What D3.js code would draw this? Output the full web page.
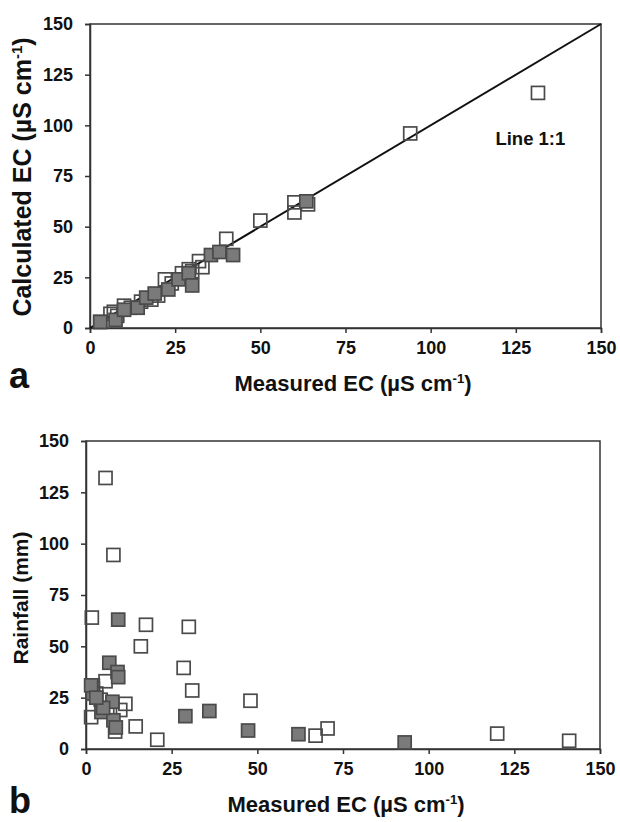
<!DOCTYPE html>
<html>
<head>
<meta charset="utf-8">
<script src="https://cdn.jsdelivr.net/npm/d3@7"></script>
<style>
  body { margin: 0; background: #fff; }
  text { font-family: "Liberation Sans", Arial, sans-serif; font-weight: bold; fill: #111; }
</style>
</head>
<body>
<script>
// panel a: measured vs calculated EC
const aOpen = [[3,3],[6,7],[7,8],[8,6],[10,11],[12,10],[15,13],[18,14],[20,16],[22,24],[24,22],[27,27],
  [29,29],[30,28],[32,33],[33,30],[40,44],[50,53],[60,57],[60,62],[64,61],[94,96],[131.5,116]];
const aFilled = [[3,3],[7.5,4],[10,9],[14,10],[16.5,15],[19,17],[23,19],[26,24],[29,27],[30,21],
  [35.5,36],[38,37.5],[42,36],[63.5,62.5]];

// panel b: measured EC vs rainfall
const bOpen = [[5.7,132],[8,94.5],[1.7,64],[17.5,60.5],[30,59.5],[16,50],[28.5,39.5],[31,28.5],[48,23.5],
  [11.5,22],[20.8,4.5],[14.5,11],[1.5,15.5],[5.7,33],[4.3,24],[10,19],[2,31],[8.5,8.5],[67,6.5],
  [70.5,10],[120,7.5],[141,4],[3,27],[7,20]];
const bFilled = [[9.4,63],[6.8,42],[9.2,37.5],[9.4,35],[2,29.5],[2,27],[1.5,31],[4.5,18],[7.7,23],[8,14],
  [8.7,10.5],[29,16],[36,18.5],[47.3,9],[62,7.2],[93,3.2],[5,20],[3,25]];

const ticks = [0, 25, 50, 75, 100, 125, 150];

const svg = d3.select('body').append('svg')
  .attr('width', 620)
  .attr('height', 822);

function ecLabel(sel, prefix, size) {
  sel.append('tspan').text(prefix);
  sel.append('tspan').attr('dy', -size * 0.38).style('font-size', (size * 0.6) + 'px').text('-1');
  sel.append('tspan').attr('dy', size * 0.38).text(')');
}

function panel(cfg) {
  const x = d3.scaleLinear().domain([0, 150]).range([cfg.left, cfg.right]);
  const y = d3.scaleLinear().domain([0, 150]).range([cfg.bottom, cfg.top]);
  const g = svg.append('g');

  // frame
  g.append('rect')
    .attr('x', cfg.left).attr('y', cfg.top)
    .attr('width', cfg.right - cfg.left).attr('height', cfg.bottom - cfg.top)
    .attr('fill', 'none').attr('stroke', '#333').attr('stroke-width', 1.5);

  const xAxis = g.append('g')
    .attr('transform', `translate(0,${cfg.bottom})`)
    .call(d3.axisBottom(x).tickValues(ticks).tickSize(5).tickPadding(8));
  const yAxis = g.append('g')
    .attr('transform', `translate(${cfg.left},0)`)
    .call(d3.axisLeft(y).tickValues(ticks).tickSize(5).tickPadding(12));
  [xAxis, yAxis].forEach(ax => {
    ax.select('.domain').attr('stroke', '#333').attr('stroke-width', 1.5);
    ax.selectAll('.tick line').attr('stroke', '#333').attr('stroke-width', 1.5);
    ax.selectAll('.tick text').style('font-size', '18px').style('font-weight', 'bold')
      .style('font-family', '"Liberation Sans", Arial, sans-serif').attr('fill', '#111');
  });

  if (cfg.oneToOne) {
    g.append('line')
      .attr('x1', x(0)).attr('y1', y(0)).attr('x2', x(150)).attr('y2', y(150))
      .attr('stroke', '#111').attr('stroke-width', 2);
    g.append('text').attr('x', x(119)).attr('y', y(90.5))
      .style('font-size', '18.5px').text('Line 1:1');
  }

  const s = 13;
  g.selectAll('.open').data(cfg.open).enter().append('rect')
    .attr('x', d => x(d[0]) - s / 2).attr('y', d => y(d[1]) - s / 2)
    .attr('width', s).attr('height', s)
    .attr('fill', 'none').attr('stroke', '#4a4a4a').attr('stroke-width', 1.7);
  g.selectAll('.filled').data(cfg.filled).enter().append('rect')
    .attr('x', d => x(d[0]) - s / 2).attr('y', d => y(d[1]) - s / 2)
    .attr('width', s).attr('height', s)
    .attr('fill', '#7a7a7a').attr('stroke', '#4a4a4a').attr('stroke-width', 1.7);

  // x title
  const xt = g.append('text').attr('x', cfg.xTitleX).attr('y', cfg.bottom + 63)
    .attr('text-anchor', 'middle').style('font-size', '22px');
  ecLabel(xt, 'Measured EC (µS cm', 22);

  // y title
  const yt = g.append('text')
    .attr('transform', `translate(${cfg.yTitleX},${cfg.yTitleY}) rotate(-90)`)
    .attr('text-anchor', 'middle').style('font-size', cfg.yTitleSize + 'px');
  if (cfg.yLabel) {
    yt.text(cfg.yLabel);
  } else {
    ecLabel(yt, 'Calculated EC  (µS cm', cfg.yTitleSize);
  }

  g.append('text').attr('x', 9).attr('y', cfg.letterY)
    .style('font-size', '36px').text(cfg.letter);
}

panel({ left: 90, right: 601, top: 24, bottom: 328, open: aOpen, filled: aFilled,
  oneToOne: true, letter: 'a', letterY: 388, xTitleX: 353, yTitleX: 31, yTitleY: 177, yTitleSize: 25 });
panel({ left: 86, right: 600, top: 441, bottom: 749, open: bOpen, filled: bFilled,
  yLabel: 'Rainfall (mm)', letter: 'b', letterY: 813, xTitleX: 346, yTitleX: 28, yTitleY: 598, yTitleSize: 21 });
</script>
</body>
</html>
